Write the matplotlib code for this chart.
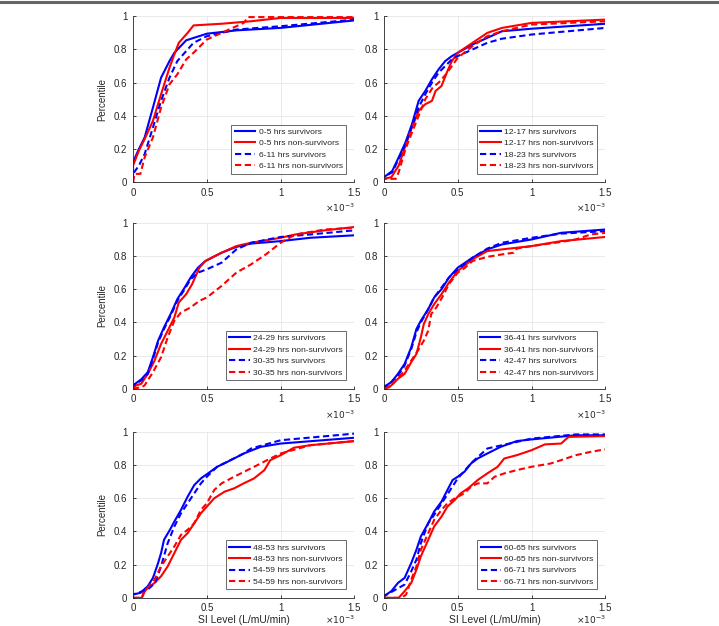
import matplotlib
matplotlib.use("Agg")
import matplotlib.pyplot as plt
from matplotlib.lines import Line2D
import numpy as np

plt.rcParams["font.family"] = ["Liberation Sans", "DejaVu Sans"]

# SI values are in units of 1e-3 L/mU/min, percentiles 0..1
# --- 0-5 / 6-11 hrs ---
x_0_5_s = [0, 0, 0.04, 0.079, 0.135, 0.19, 0.247, 0.28, 0.36, 0.5, 0.7, 1.0, 1.5]
y_0_5_s = [0, 0.12, 0.2, 0.27, 0.45, 0.63, 0.73, 0.78, 0.855, 0.895, 0.915, 0.93, 0.975]
x_0_5_n = [0, 0, 0.04, 0.079, 0.135, 0.19, 0.247, 0.28, 0.31, 0.34, 0.37, 0.41, 0.6, 0.8, 1.0, 1.5]
y_0_5_n = [0, 0.1, 0.19, 0.26, 0.37, 0.53, 0.69, 0.77, 0.84, 0.87, 0.9, 0.945, 0.955, 0.97, 0.99, 0.99]
x_6_11_s = [0, 0, 0.04, 0.079, 0.135, 0.19, 0.247, 0.3, 0.36, 0.41, 0.5, 0.7, 1.0, 1.5]
y_6_11_s = [0, 0.05, 0.1, 0.17, 0.33, 0.49, 0.63, 0.73, 0.79, 0.84, 0.88, 0.92, 0.94, 0.98]
x_6_11_n = [0, 0.01, 0.05, 0.079, 0.135, 0.19, 0.247, 0.3, 0.36, 0.41, 0.5, 0.6, 0.75, 0.78, 1.5]
y_6_11_n = [0, 0.05, 0.05, 0.15, 0.27, 0.45, 0.59, 0.65, 0.74, 0.78, 0.86, 0.9, 0.96, 0.995, 0.995]

# --- 12-17 / 18-23 hrs ---
x_12_17_s = [0, 0, 0.056, 0.1, 0.146, 0.19, 0.235, 0.28, 0.325, 0.37, 0.415, 0.46, 0.5, 0.6, 0.7, 0.8, 1.0, 1.5]
y_12_17_s = [0, 0.03, 0.067, 0.15, 0.24, 0.35, 0.49, 0.55, 0.62, 0.68, 0.73, 0.76, 0.78, 0.83, 0.87, 0.91, 0.925, 0.955]
x_12_17_n = [0, 0, 0.05, 0.1, 0.146, 0.19, 0.235, 0.28, 0.325, 0.35, 0.39, 0.43, 0.46, 0.5, 0.6, 0.7, 0.8, 1.0, 1.5]
y_12_17_n = [0, 0.02, 0.03, 0.1, 0.22, 0.33, 0.43, 0.47, 0.49, 0.55, 0.58, 0.67, 0.73, 0.78, 0.84, 0.9, 0.93, 0.96, 0.98]
x_18_23_s = [0, 0, 0.056, 0.1, 0.146, 0.19, 0.235, 0.28, 0.325, 0.37, 0.415, 0.46, 0.5, 0.6, 0.7, 0.8, 1.0, 1.5]
y_18_23_s = [0, 0.03, 0.06, 0.14, 0.23, 0.34, 0.45, 0.53, 0.6, 0.66, 0.7, 0.74, 0.76, 0.8, 0.84, 0.865, 0.89, 0.93]
x_18_23_n = [0, 0, 0.08, 0.1, 0.146, 0.19, 0.235, 0.28, 0.33, 0.37, 0.42, 0.46, 0.5, 0.6, 0.7, 0.8, 1.0, 1.5]
y_18_23_n = [0, 0.02, 0.02, 0.06, 0.2, 0.3, 0.4, 0.5, 0.57, 0.6, 0.65, 0.7, 0.75, 0.82, 0.88, 0.91, 0.95, 0.97]

# --- 24-29 / 30-35 hrs ---
x_24_29_s = [0, 0, 0.056, 0.1, 0.135, 0.17, 0.21, 0.26, 0.3, 0.35, 0.39, 0.44, 0.49, 0.6, 0.7, 0.8, 1.0, 1.2, 1.5]
y_24_29_s = [0, 0.02, 0.057, 0.1, 0.19, 0.29, 0.37, 0.46, 0.54, 0.61, 0.67, 0.73, 0.77, 0.82, 0.855, 0.875, 0.89, 0.91, 0.925]
x_24_29_n = [0, 0.02, 0.056, 0.1, 0.146, 0.19, 0.235, 0.28, 0.31, 0.36, 0.4, 0.45, 0.49, 0.6, 0.7, 0.8, 1.0, 1.1, 1.3, 1.5]
y_24_29_n = [0, 0.02, 0.03, 0.09, 0.17, 0.27, 0.35, 0.43, 0.52, 0.57, 0.63, 0.73, 0.77, 0.82, 0.86, 0.88, 0.91, 0.93, 0.955, 0.975]
x_30_35_s = [0, 0, 0.056, 0.1, 0.135, 0.17, 0.21, 0.26, 0.3, 0.35, 0.39, 0.44, 0.5, 0.55, 0.6, 0.7, 0.8, 1.0, 1.2, 1.5]
y_30_35_s = [0, 0.02, 0.05, 0.09, 0.18, 0.28, 0.36, 0.45, 0.53, 0.6, 0.66, 0.7, 0.72, 0.74, 0.76, 0.84, 0.88, 0.915, 0.93, 0.955]
x_30_35_n = [0, 0.06, 0.078, 0.135, 0.19, 0.235, 0.28, 0.325, 0.39, 0.45, 0.5, 0.6, 0.7, 0.8, 0.9, 1.0, 1.1, 1.3, 1.5]
y_30_35_n = [0, 0.01, 0.02, 0.1, 0.19, 0.31, 0.41, 0.46, 0.49, 0.53, 0.55, 0.62, 0.7, 0.75, 0.81, 0.88, 0.93, 0.96, 0.97]

# --- 36-41 / 42-47 hrs ---
x_36_41_s = [0, 0, 0.05, 0.095, 0.14, 0.185, 0.22, 0.25, 0.3, 0.34, 0.39, 0.44, 0.5, 0.6, 0.7, 0.8, 1.0, 1.2, 1.5]
y_36_41_s = [0, 0.01, 0.04, 0.09, 0.15, 0.25, 0.36, 0.41, 0.48, 0.55, 0.6, 0.67, 0.73, 0.79, 0.84, 0.87, 0.9, 0.94, 0.96]
x_36_41_n = [0, 0.05, 0.095, 0.14, 0.185, 0.22, 0.25, 0.27, 0.3, 0.34, 0.39, 0.44, 0.5, 0.6, 0.7, 0.8, 1.0, 1.2, 1.5]
y_36_41_n = [0, 0.02, 0.06, 0.09, 0.16, 0.21, 0.31, 0.39, 0.45, 0.51, 0.57, 0.64, 0.71, 0.78, 0.83, 0.84, 0.86, 0.89, 0.915]
x_42_47_s = [0, 0, 0.05, 0.095, 0.14, 0.185, 0.22, 0.25, 0.3, 0.34, 0.39, 0.44, 0.5, 0.6, 0.7, 0.8, 1.0, 1.2, 1.5]
y_42_47_s = [0, 0.01, 0.04, 0.08, 0.14, 0.24, 0.34, 0.4, 0.48, 0.55, 0.61, 0.67, 0.72, 0.79, 0.845, 0.88, 0.91, 0.935, 0.95]
x_42_47_n = [0, 0.04, 0.14, 0.185, 0.23, 0.27, 0.3, 0.32, 0.355, 0.4, 0.44, 0.5, 0.55, 0.6, 0.7, 0.8, 0.88, 0.9, 1.0, 1.2, 1.3, 1.4, 1.5]
y_42_47_n = [0, 0.01, 0.11, 0.17, 0.23, 0.29, 0.35, 0.45, 0.49, 0.56, 0.63, 0.7, 0.73, 0.77, 0.795, 0.81, 0.82, 0.845, 0.86, 0.885, 0.9, 0.93, 0.94]

# --- 48-53 / 54-59 hrs ---
x_48_53_s = [0, 0, 0.05, 0.1, 0.135, 0.17, 0.19, 0.21, 0.25, 0.28, 0.325, 0.37, 0.415, 0.46, 0.5, 0.57, 0.64, 0.75, 0.865, 1.0, 1.5]
y_48_53_s = [0, 0.02, 0.03, 0.07, 0.12, 0.21, 0.27, 0.35, 0.41, 0.46, 0.53, 0.61, 0.68, 0.72, 0.745, 0.79, 0.82, 0.87, 0.91, 0.93, 0.965]
x_48_53_n = [0, 0.06, 0.07, 0.1, 0.146, 0.19, 0.235, 0.28, 0.325, 0.37, 0.415, 0.46, 0.5, 0.55, 0.62, 0.685, 0.75, 0.82, 0.89, 0.93, 1.0, 1.09, 1.2, 1.5]
y_48_53_n = [0, 0, 0.03, 0.06, 0.09, 0.13, 0.19, 0.27, 0.35, 0.39, 0.45, 0.51, 0.55, 0.6, 0.64, 0.66, 0.69, 0.72, 0.77, 0.83, 0.86, 0.905, 0.92, 0.945]
x_54_59_s = [0, 0, 0.1, 0.15, 0.19, 0.235, 0.28, 0.325, 0.37, 0.415, 0.46, 0.5, 0.57, 0.75, 0.8, 1.0, 1.5]
y_54_59_s = [0, 0.02, 0.05, 0.09, 0.19, 0.33, 0.43, 0.51, 0.57, 0.63, 0.69, 0.73, 0.79, 0.87, 0.9, 0.95, 0.99]
x_54_59_n = [0, 0.06, 0.08, 0.146, 0.19, 0.235, 0.28, 0.325, 0.37, 0.415, 0.46, 0.5, 0.55, 0.6, 0.685, 0.775, 0.865, 0.93, 1.0, 1.2, 1.5]
y_54_59_n = [0, 0, 0.04, 0.11, 0.19, 0.25, 0.31, 0.38, 0.41, 0.45, 0.53, 0.57, 0.65, 0.69, 0.73, 0.77, 0.81, 0.84, 0.87, 0.92, 0.945]

# --- 60-65 / 66-71 hrs ---
x_60_65_s = [0, 0, 0.05, 0.095, 0.14, 0.185, 0.22, 0.25, 0.3, 0.34, 0.39, 0.43, 0.465, 0.5, 0.545, 0.59, 0.635, 0.7, 0.79, 0.9, 1.0, 1.3, 1.5]
y_60_65_s = [0, 0.01, 0.04, 0.09, 0.12, 0.21, 0.29, 0.37, 0.45, 0.52, 0.58, 0.65, 0.71, 0.73, 0.76, 0.81, 0.84, 0.87, 0.91, 0.945, 0.955, 0.98, 0.98]
x_60_65_n = [0, 0.1, 0.12, 0.14, 0.185, 0.22, 0.25, 0.3, 0.34, 0.39, 0.43, 0.48, 0.52, 0.57, 0.635, 0.7, 0.77, 0.815, 0.9, 1.0, 1.09, 1.2, 1.25, 1.5]
y_60_65_n = [0, 0, 0.02, 0.04, 0.09, 0.17, 0.25, 0.35, 0.43, 0.49, 0.55, 0.59, 0.63, 0.66, 0.71, 0.75, 0.79, 0.84, 0.86, 0.89, 0.925, 0.93, 0.97, 0.975]
x_66_71_s = [0, 0, 0.1, 0.14, 0.185, 0.22, 0.25, 0.3, 0.34, 0.5, 0.6, 0.7, 0.8, 1.0, 1.3, 1.5]
y_66_71_s = [0, 0.01, 0.06, 0.08, 0.16, 0.23, 0.33, 0.45, 0.5, 0.72, 0.82, 0.9, 0.92, 0.96, 0.985, 0.985]
x_66_71_n = [0, 0.12, 0.15, 0.185, 0.22, 0.25, 0.3, 0.34, 0.39, 0.43, 0.48, 0.545, 0.59, 0.635, 0.7, 0.75, 0.815, 0.9, 1.0, 1.13, 1.2, 1.3, 1.4, 1.5]
y_66_71_n = [0, 0, 0.02, 0.11, 0.19, 0.29, 0.39, 0.47, 0.53, 0.57, 0.6, 0.63, 0.67, 0.69, 0.69, 0.73, 0.75, 0.77, 0.79, 0.81, 0.83, 0.86, 0.88, 0.895]

panels = [
    ("0-5", "6-11", (x_0_5_s, y_0_5_s), (x_0_5_n, y_0_5_n), (x_6_11_s, y_6_11_s), (x_6_11_n, y_6_11_n)),
    ("12-17", "18-23", (x_12_17_s, y_12_17_s), (x_12_17_n, y_12_17_n), (x_18_23_s, y_18_23_s), (x_18_23_n, y_18_23_n)),
    ("24-29", "30-35", (x_24_29_s, y_24_29_s), (x_24_29_n, y_24_29_n), (x_30_35_s, y_30_35_s), (x_30_35_n, y_30_35_n)),
    ("36-41", "42-47", (x_36_41_s, y_36_41_s), (x_36_41_n, y_36_41_n), (x_42_47_s, y_42_47_s), (x_42_47_n, y_42_47_n)),
    ("48-53", "54-59", (x_48_53_s, y_48_53_s), (x_48_53_n, y_48_53_n), (x_54_59_s, y_54_59_s), (x_54_59_n, y_54_59_n)),
    ("60-65", "66-71", (x_60_65_s, y_60_65_s), (x_60_65_n, y_60_65_n), (x_66_71_s, y_66_71_s), (x_66_71_n, y_66_71_n)),
]

x_ticks = [0, 0.5, 1, 1.5]
x_ticklabels = ["0", "0.5", "1", "1.5"]
y_ticks = [0, 0.2, 0.4, 0.6, 0.8, 1]
y_ticklabels = ["0", "0.2", "0.4", "0.6", "0.8", "1"]

BLUE = "#0000FF"
RED = "#FF0000"
DARK = "#262626"

fig = plt.figure(figsize=(7.19, 6.26), dpi=100)

# gray rule along the top edge
fig.add_artist(Line2D([0, 1], [0.997, 0.997], color="#666666", lw=2.2,
                      transform=fig.transFigure))

lefts = [0.185, 0.534]
bottoms = [0.709, 0.379, 0.045]
W, H = 0.308, 0.265

for i, (ga, gb, sa, na, sb, nb) in enumerate(panels):
    row, col = divmod(i, 2)
    ax = fig.add_axes([lefts[col], bottoms[row], W, H])
    styles = [(sa, BLUE, "-", f"{ga} hrs survivors"),
              (na, RED, "-", f"{ga} hrs non-survivors"),
              (sb, BLUE, "--", f"{gb} hrs survivors"),
              (nb, RED, "--", f"{gb} hrs non-survivors")]
    for (xs, ys), c, ls, lab in styles:
        ax.plot(np.array(xs) * 1e-3, ys, color=c, ls=ls, lw=1.5, label=lab,
                dashes=(3, 1.7) if ls == "--" else (None, None))

    ax.set_xlim(0, 1.5e-3)
    ax.set_ylim(0, 1)
    ax.set_xticks(np.array(x_ticks) * 1e-3)
    ax.set_xticklabels(x_ticklabels)
    ax.set_yticks(y_ticks)
    ax.set_yticklabels(y_ticklabels)
    # exponent note under the right end of the x axis
    off_y = -0.135 if row == 2 else -0.155
    ax.text(1.0, off_y, r"$\times10^{-3}$", transform=ax.transAxes,
            ha="right", va="center", fontsize=6.5, color=DARK)
    ax.grid(True, color="#E6E6E6", lw=0.6)
    ax.set_axisbelow(True)
    for s in ("top", "right"):
        ax.spines[s].set_visible(False)
    for s in ("left", "bottom"):
        ax.spines[s].set_color(DARK)
        ax.spines[s].set_linewidth(0.6)
    ax.tick_params(direction="in", length=2.5, width=0.6, labelsize=7,
                   colors=DARK, pad=4)
    if col == 0:
        ax.set_ylabel("Percentile", fontsize=7, color=DARK, labelpad=5)
    if row == 2:
        ax.set_xlabel("SI Level (L/mU/min)", fontsize=7.5, color=DARK, labelpad=1)

    leg = ax.legend(loc="lower right", fontsize=6.1, frameon=True, fancybox=False,
                    edgecolor=DARK, handlelength=2.4, labelspacing=0.42,
                    borderpad=0.4, handletextpad=0.4, borderaxespad=1.0)
    leg.get_frame().set_linewidth(0.6)
    for t in leg.get_texts():
        t.set_color(DARK)

fig.savefig("out.png", dpi=100)
